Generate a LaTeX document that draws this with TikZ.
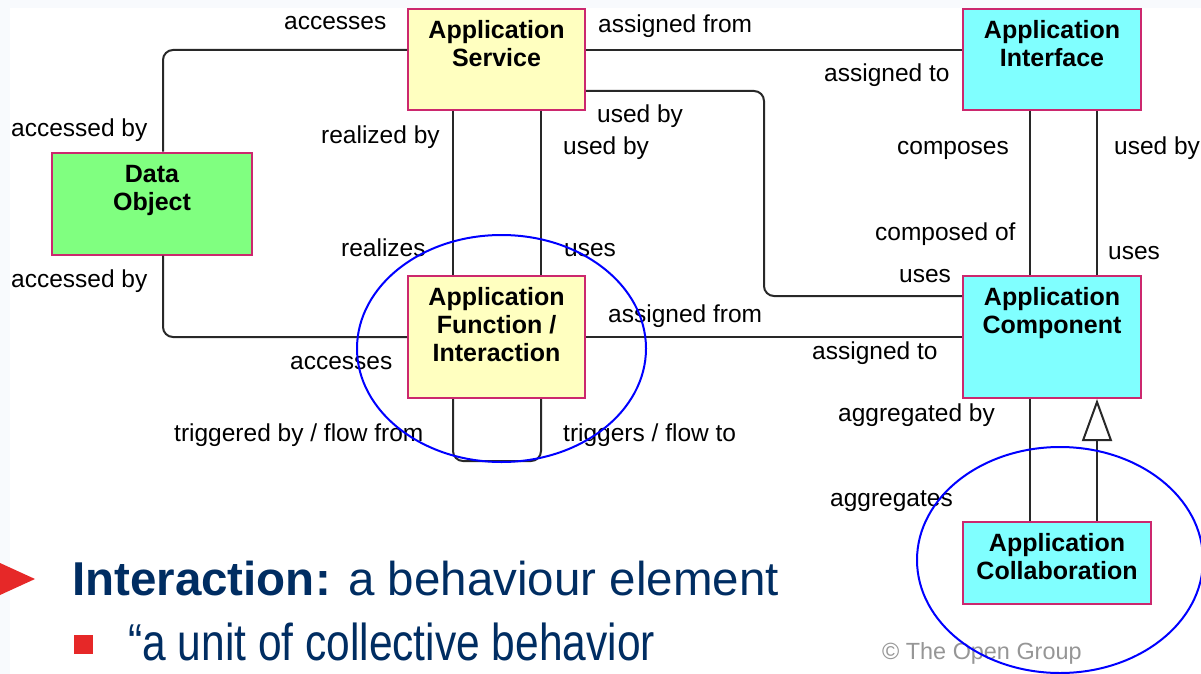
\documentclass[tikz,border=0pt]{standalone}
\usepackage{fontspec}
\setmainfont{Liberation Sans}
\usetikzlibrary{arrows.meta,calc}
\definecolor{boxborder}{RGB}{204,40,110}
\definecolor{yel}{RGB}{255,255,192}
\definecolor{cyn}{RGB}{128,255,255}
\definecolor{grn}{RGB}{128,255,128}
\definecolor{linec}{RGB}{40,40,40}
\definecolor{ellc}{RGB}{0,0,255}
\definecolor{navy}{RGB}{0,45,98}
\definecolor{redm}{RGB}{230,40,40}
\definecolor{bgc}{RGB}{248,250,253}
\definecolor{copyc}{RGB}{150,150,150}
\begin{document}
\begin{tikzpicture}[x=1pt,y=-1pt,
  elem/.style={draw=boxborder, line width=2pt, inner sep=0pt},
  elemtext/.style={anchor=north, inner sep=0pt, align=center, font=\bfseries\fontsize{25}{28}\selectfont},
  conn/.style={draw=linec, line width=2pt, rounded corners=10pt},
  lbl/.style={anchor=base west, inner sep=0pt, font=\fontsize{24.5}{28}\selectfont},
  ring/.style={draw=ellc, line width=2pt}
]
\useasboundingbox (0,0) rectangle (1201,674);
\fill[bgc] (0,0) rectangle (1201,674);
\fill[white] (10,8) rectangle (1201,674);

% elements
\node[elem, fill=yel, minimum width=177pt, minimum height=101pt] (svc) at (496.5,59.5) {};
\node[elem, fill=cyn, minimum width=178pt, minimum height=101pt] (iface) at (1052,59.5) {};
\node[elem, fill=grn, minimum width=200pt, minimum height=102pt] (dobj) at (152,203.5) {};
\node[elem, fill=yel, minimum width=177pt, minimum height=122pt] (func) at (496.5,337) {};
\node[elem, fill=cyn, minimum width=178pt, minimum height=122pt] (comp) at (1052,337) {};
\node[elem, fill=cyn, minimum width=188pt, minimum height=82pt] (collab) at (1057,562.5) {};

\node[elemtext] (svct) at ([yshift=-12pt]svc.north) {Application\\Service};
\node[elemtext] (ifacet) at ([yshift=-12pt]iface.north) {Application\\Interface};
\node[elemtext] (dobjt) at ([yshift=-13.5pt]dobj.north) {Data\\Object};
\node[elemtext] (funct) at ([yshift=-12pt]func.north) {Application\\Function /\\Interaction};
\node[elemtext] (compt) at ([yshift=-12pt]comp.north) {Application\\Component};
\node[elemtext] (collabt) at ([yshift=-12.5pt]collab.north) {Application\\Collaboration};

% connectors
\draw[conn] ([xshift=11pt]dobj.north) |- ([yshift=9.5pt]svc.west);
\draw[conn] ([xshift=11pt]dobj.south) |- (func.west);
\draw[conn] ([xshift=-43.5pt]svc.south) -- ([xshift=-43.5pt]func.north);
\draw[conn] ([xshift=44.5pt]svc.south) -- ([xshift=44.5pt]func.north);
\draw[conn] ([yshift=9.5pt]svc.east) -- ([yshift=9.5pt]iface.west);
\draw[conn] ([yshift=-31.5pt]svc.east) -- ++(178,0) |- ([yshift=41pt]comp.west);
\draw[conn] (func.east) -- (comp.west);
\draw[conn] ([xshift=-22pt]iface.south) -- ([xshift=-22pt]comp.north);
\draw[conn] ([xshift=45pt]iface.south) -- ([xshift=45pt]comp.north);
\draw[conn] ([xshift=-43.5pt]func.south) -- ++(0,62) -| ([xshift=44.5pt]func.south);
\draw[conn] ([xshift=-27pt]collab.north) -- ([xshift=-22pt]comp.south);
\draw[conn, -{Triangle[length=42pt, width=30pt, fill=white]}] ([xshift=40pt]collab.north) -- ([xshift=45pt]comp.south);

% labels
\node[lbl] (l1) at (284,30) {accesses};
\node[lbl] (l2) at (598,33) {assigned from};
\node[lbl] (l3) at (824,82) {assigned to};
\node[lbl] (l4) at (11,136) {accessed by};
\node[lbl] (l5) at (321,143) {realized by};
\node[lbl] (l6) at (597,123) {used by};
\node[lbl] (l7) at (563,154) {used by};
\node[lbl] (l8) at (897,154) {composes};
\node[lbl] (l9) at (1114,154) {used by};
\node[lbl] (l10) at (875,240) {composed of};
\node[lbl] (l11) at (1108,259) {uses};
\node[lbl] (l12) at (341,256) {realizes};
\node[lbl] (l13) at (564,256) {uses};
\node[lbl] (l14) at (899,282) {uses};
\node[lbl] (l15) at (11,287) {accessed by};
\node[lbl] (l16) at (608,322) {assigned from};
\node[lbl] (l17) at (812,359) {assigned to};
\node[lbl] (l18) at (290,369) {accesses};
\node[lbl] (l19) at (174,441) {triggered by / flow from};
\node[lbl] (l20) at (563,441) {triggers / flow to};
\node[lbl] (l21) at (838,421) {aggregated by};
\node[lbl] (l22) at (830,506) {aggregates};
\node[lbl, text=copyc, font=\fontsize{23.4}{26}\selectfont] (copy) at (882,659) {© The Open Group};

% slide text
\fill[redm] (0,563) -- (35,579) -- (0,595) -- cycle;
\node[anchor=base west, inner sep=0pt, text=navy, font=\fontsize{47.5}{52}\selectfont] (intro) at (72,595) {\textbf{Interaction:} a behaviour element};
\fill[redm] (74,635) rectangle (93,654);
\node[anchor=base west, inner sep=0pt, text=navy, font=\fontsize{42.5}{48}\selectfont] (quote) at (128,660) {\scalebox{1}[1.22]{“a unit of collective behavior}};

% highlight ellipses
\draw[ring] (501.5,348.5) ellipse [x radius=144.5pt, y radius=113.5pt];
\draw[ring] (1060,560) ellipse [x radius=143pt, y radius=113pt];
\end{tikzpicture}
\end{document}
